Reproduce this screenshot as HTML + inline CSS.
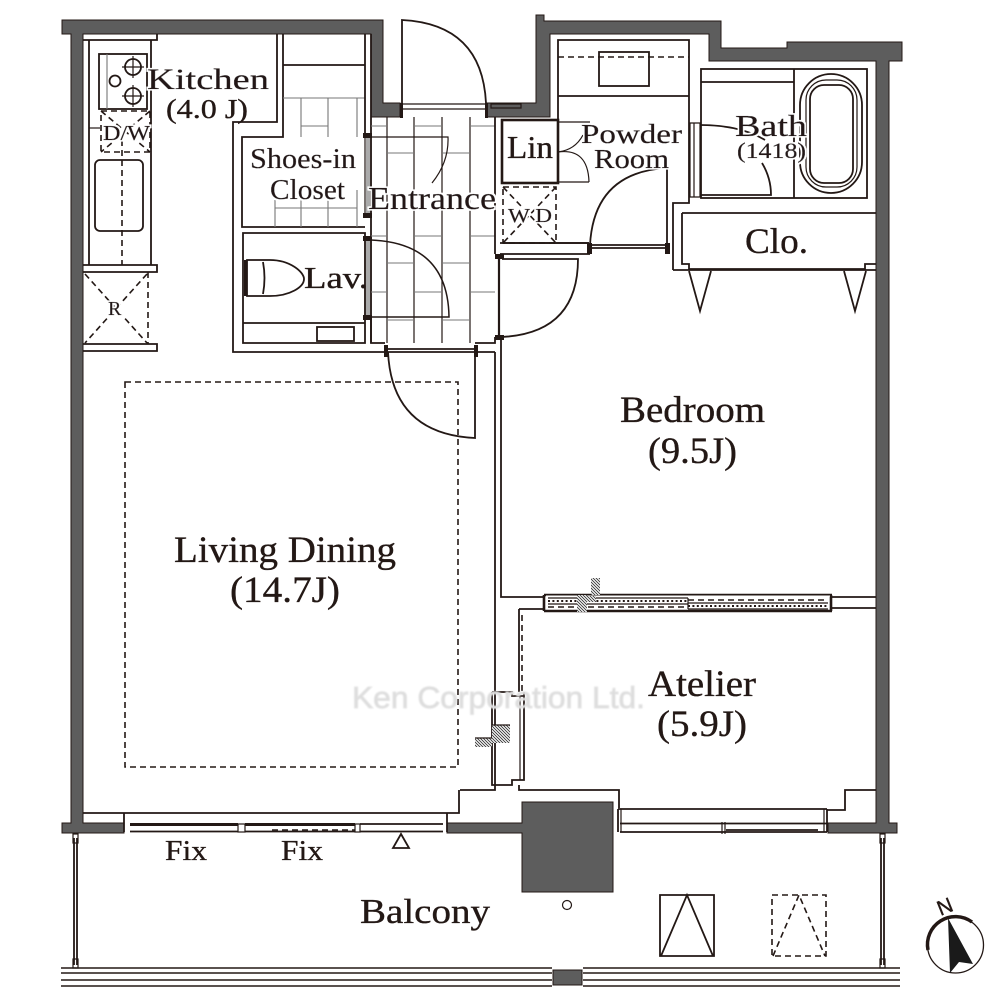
<!DOCTYPE html>
<html><head><meta charset="utf-8"><style>
html,body{margin:0;padding:0;background:#fff;width:1000px;height:1000px;overflow:hidden}
svg{display:block}
text{font-family:"Liberation Serif",serif;fill:#231815;stroke:#231815;stroke-width:.35px}
.h{filter:url(#halo)}
.l{fill:none;stroke:#231815;stroke-width:1.8}
.t{fill:none;stroke:#231815;stroke-width:1.2}
.g{fill:none;stroke:#777;stroke-width:1.1}
.b{fill:none;stroke:#231815;stroke-width:2.6}
.d{fill:none;stroke:#231815;stroke-width:1.6;stroke-dasharray:6 4}
.w{fill:#5d5d5d;stroke:#231815;stroke-width:1}
</style></head><body>
<svg width="1000" height="1000" viewBox="0 0 1000 1000" xmlns="http://www.w3.org/2000/svg">
<defs>
<pattern id="hat" width="3" height="3" patternUnits="userSpaceOnUse"><rect width="3" height="3" fill="#fff"/><path d="M0 0L3 3M-1 2L1 4M2 -1L4 1" stroke="#333" stroke-width=".9"/></pattern>
<filter id="halo" x="-10%" y="-20%" width="120%" height="140%"><feMorphology in="SourceAlpha" operator="dilate" radius="1.6" result="m"/><feFlood flood-color="#fff"/><feComposite in2="m" operator="in" result="w"/><feMerge><feMergeNode in="w"/><feMergeNode in="SourceGraphic"/></feMerge></filter>
<filter id="soft" x="-5%" y="-30%" width="110%" height="160%"><feGaussianBlur stdDeviation=".7"/></filter>
</defs>

<!-- walls -->
<path class="w" d="M62 20H383V103H400V117H371V34H83V823H124V833H62V823H71V34H62Z"/>
<path class="w" d="M487 103H536V15H544V21H721V48H787V42H902V61H889V823H897V833H828V823H876V61H709V34H550V117H487Z"/>
<path class="w" d="M447 823H522V802H613V892H522V833H447Z"/>
<rect class="w" x="553" y="970" width="29" height="15"/>

<!-- balcony rails -->
<path class="t" style="stroke-width:1.5" d="M61 968H552M61 973H552M61 980H552M61 986H552M583 968H900M583 973H900M583 980H900M583 986H900"/>
<path class="l" d="M74 838V965M77 838V965M881 838V965M884 838V965"/>
<rect class="t" x="73" y="834" width="5" height="9" fill="#fff"/><rect class="t" x="73" y="959" width="5" height="9" fill="#fff"/>
<rect class="t" x="880" y="834" width="5" height="9" fill="#fff"/><rect class="t" x="880" y="959" width="5" height="9" fill="#fff"/>

<!-- kitchen -->
<path class="l" d="M83 40H157V34M89 40V265M151 40V265M83 265H157V272H83M83 344H157V351H83M157 265V272M157 344V351"/>
<rect class="l" x="99" y="54" width="48" height="55"/>
<path class="g" d="M107 54V109"/>
<circle class="l" cx="133" cy="67" r="8"/><circle class="l" cx="133" cy="96" r="8"/><circle class="l" cx="115" cy="81" r="5.5"/>
<path class="t" d="M133 56V78M122 67H144M122 96H144M133 85V107"/>
<path class="d" d="M101 111H150V152H101ZM101 111L150 152M150 111L101 152"/>
<path class="t" d="M89 128H100"/>
<rect class="l" x="95" y="160" width="48" height="71" rx="5"/>
<path class="d" d="M122 140V265"/>
<path class="d" d="M148 272V344M85 274L147 343M147 274L85 343"/>

<!-- closet & lav walls -->
<path class="l" d="M277 34V122H233V352H385M283 34V137H242V227H365M243 233H365V343H243ZM283 65H365"/>
<path class="g" d="M283 98H365"/>
<path class="l" d="M365 34V137M371 34V343"/>
<path class="g" d="M301 98V137M328 98V137M357 98V137M275 200V227M301 190V227M328 190V227M357 190V227M301 126H328M275 208H357"/>
<path class="l" d="M243 323H365"/>
<rect class="l" x="317" y="327" width="37" height="14"/>
<!-- toilet -->
<path class="l" d="M247 260H270C290 260 304 272 304 279C304 287 290 296 270 296H247Z"/>
<path class="l" d="M263 262Q266 278 263 294"/>
<rect x="244" y="260" width="3" height="36" fill="#231815"/>

<!-- sliding door frames west -->
<path style="fill:none;stroke:#aaa;stroke-width:4" d="M368 137V215M368 240V317"/>
<path class="t" d="M365 137V215M371 137V215M365 240V317M371 240V317"/>
<path d="M363 133h9v5h-9zM363 213h9v5h-9zM363 236h9v5h-9zM363 315h9v5h-9z" fill="#231815"/>

<!-- entrance tile -->
<path class="t" d="M387 117V343M414 117V343M442 117V343M470 117V343"/>
<path class="g" d="M371 126H387M414 126H442M470 126H495M387 153H414M442 153H470M371 236H387M414 236H442M470 236H495M387 263H414M442 263H470M371 292H387M414 292H442M470 292H495M387 320H414M442 320H470"/>
<path class="t" d="M371 137H448Q449 162 432 183"/>
<path class="t" style="stroke-width:1.5" d="M371 240Q448 243 449 317H372"/>

<!-- entrance door -->
<path class="l" d="M402 103V20Q482 24 486 103"/>
<path class="t" d="M402 104H486V109H402ZM491 104H521V108H491Z"/>
<path d="M400 103h3v15h-3zM485 103h3v15h-3z" fill="#231815"/>

<!-- east wall of entrance -->
<path class="l" d="M495 117V254M500 254H590M500 243H589"/>
<rect class="b" x="502" y="120" width="56" height="63"/>
<path class="d" d="M503 187H556V243H503ZM503 187L556 243M556 187L503 243"/>
<path class="l" d="M503 243H589"/>
<path class="t" d="M558 122H590M558 182H589M558 152Q588 148 589 182M558 152Q575 150 583 135"/>
<path class="l" d="M590 245H667M590 248H667M667 245V168Q594 172 590 245"/>
<path d="M587 243h5v11h-5zM665 243h5v11h-5zM495 254h9v5h-9zM495 335h9v5h-9zM384 345h4v12h-4zM474 345h4v12h-4z" fill="#231815"/>

<!-- bedroom door -->
<path class="l" style="stroke-width:2.2" d="M499 259V337"/>
<path class="l" d="M502 259H578Q578 333 502 337"/>
<path class="l" d="M371 320V343H385M475 343H495V337M388 349H475M388 352H475M475 352H495M495 352V790H460M501 337V597H545"/>
<path class="l" d="M388 352Q392 434 475 438V352"/>

<!-- powder room -->
<path class="l" d="M558 120V40H689V203H673V270M558 96H689"/>
<path class="d" d="M558 57H689"/>
<rect class="l" x="599" y="52" width="50" height="34"/>

<!-- bath -->
<rect class="l" x="701" y="69" width="166" height="129"/>
<path class="l" d="M701 82H794M794 69V198"/>
<rect class="l" x="800" y="74" width="62" height="119" rx="31"/>
<rect class="l" x="810" y="85" width="43" height="98" rx="14"/>
<rect class="t" x="806" y="80" width="51" height="107" rx="20"/>
<path class="t" d="M690 123H700V197H690ZM694 123V197"/>
<path class="l" d="M700 125Q740 125 765 140M762 163Q771 178 771 195H700"/>

<!-- closet -->
<path class="l" d="M682 213H876M682 213V264H689V269H865V264H876M673 270H876"/>
<path class="l" d="M689 271L700 311L711 271M844 271L855 311L866 271"/>

<!-- bedroom/atelier wall -->
<path class="b" d="M544 595H832M544 611H832M544 595V611M831 595V611"/>
<path class="l" d="M832 597H876M832 608H876M519 609H545M519 609V692"/>
<path style="fill:none;stroke:#231815;stroke-width:2;stroke-dasharray:2 2.4" d="M548 601H688M688 606H828"/>
<path class="t" d="M548 598H688M548 604H688M688 603H828M688 609H828M688 598V609"/>
<path class="d" d="M548 607H688M688 600H828"/>
<path style="fill:none;stroke:#fff;stroke-width:1" d="M546 596H830"/>
<rect x="591" y="578" width="9" height="17" fill="url(#hat)"/><rect x="577" y="595" width="10" height="17" fill="url(#hat)"/><rect x="583" y="596" width="13" height="6" fill="url(#hat)"/>
<path class="d" d="M522 615V692"/>

<!-- atelier door -->
<path class="l" d="M492 692H512V696H524M492 692V785H512V780H524V692"/>
<path class="t" d="M520 696V780"/>
<rect x="492" y="725" width="18" height="18" fill="url(#hat)"/><rect x="475" y="738" width="17" height="9" fill="url(#hat)"/>
<path class="t" d="M492 725H510M475 738H492"/>
<path class="l" d="M519 785V790H619V808M459 790V813H447"/>

<!-- living -->
<path class="d" d="M125 382H458V767H125Z"/>
<path class="l" d="M83 813H447M124 813V832M447 813V832"/>
<path class="l" style="stroke-width:3" d="M130 824.5H238M245 824.5H355"/>
<path class="l" d="M130 831.5H238M245 831.5H355M360 831.5H443M360 824H443"/>
<rect class="t" x="238" y="824" width="7" height="8" fill="#fff"/><rect class="t" x="355" y="824" width="5" height="8" fill="#fff"/>
<path class="d" style="stroke-width:1.4" d="M272 830H355"/>
<path class="l" d="M401 834L393 848H409Z"/>

<!-- atelier window -->
<path class="l" d="M618 809H827M618 809V832M827 809V832M620 823.5H827M620 832H827M827 810H845V790H876"/>
<path class="l" style="stroke-width:1.8" d="M726 830H818"/>
<path class="t" d="M621 809V832M824 809V832M722 822V834M725 822V834"/>

<!-- balcony symbols -->
<circle class="t" cx="567" cy="905" r="4.5"/>
<path class="l" d="M660 895H714V956H660ZM661 956L687 895L713 956"/>
<path class="d" d="M772 895H826V956H772ZM773 956L799 895L825 956"/>

<!-- compass -->
<circle cx="955.5" cy="945" r="28" fill="none" stroke="#231815" stroke-width="1.3"/>
<path d="M928 950A28 28 0 0 1 972 922" fill="none" stroke="#231815" stroke-width="3.5"/>
<path d="M948 918L973 964L959 962L950 973Z" fill="#1a1a1a"/>
<text x="937" y="914" font-size="21" transform="rotate(-22 944 906)" style="font-family:'Liberation Sans',sans-serif">N</text>

<!-- watermark -->
<text x="352" y="708" font-size="31" textLength="293" lengthAdjust="spacingAndGlyphs" filter="url(#soft)" style="font-family:'Liberation Sans',sans-serif;fill:#dcdcdc;stroke:#e4e4e4;stroke-width:1px">Ken Corporation Ltd.</text>

<!-- labels -->
<text class="h" x="147" y="89" font-size="30" textLength="122" lengthAdjust="spacingAndGlyphs">Kitchen</text>
<text x="166" y="118" font-size="27" textLength="82" lengthAdjust="spacingAndGlyphs">(4.0 J)</text>
<text class="h" x="103" y="140" font-size="21" textLength="47" lengthAdjust="spacingAndGlyphs">D/W</text>
<text class="h" x="108" y="315" font-size="20">R</text>
<text class="h" x="250" y="168" font-size="29" textLength="106" lengthAdjust="spacingAndGlyphs">Shoes-in</text>
<text class="h" x="270" y="199" font-size="29" textLength="75" lengthAdjust="spacingAndGlyphs">Closet</text>
<text class="h" x="368" y="209" font-size="32" textLength="128" lengthAdjust="spacingAndGlyphs">Entrance</text>
<text x="304" y="288" font-size="31" textLength="64" lengthAdjust="spacingAndGlyphs">Lav.</text>
<text x="507" y="158" font-size="32" textLength="46" lengthAdjust="spacingAndGlyphs">Lin</text>
<text class="h" x="508" y="222" font-size="20" textLength="44" lengthAdjust="spacingAndGlyphs">W D</text>
<text class="h" x="581" y="143" font-size="27" textLength="101" lengthAdjust="spacingAndGlyphs">Powder</text>
<text class="h" x="594" y="168" font-size="27" textLength="75" lengthAdjust="spacingAndGlyphs">Room</text>
<text class="h" x="735" y="136" font-size="31" textLength="72" lengthAdjust="spacingAndGlyphs">Bath</text>
<text class="h" x="737" y="158" font-size="22" textLength="69" lengthAdjust="spacingAndGlyphs">(1418)</text>
<text x="745" y="253" font-size="36" textLength="63" lengthAdjust="spacingAndGlyphs">Clo.</text>
<text x="620" y="422" font-size="37" textLength="145" lengthAdjust="spacingAndGlyphs">Bedroom</text>
<text x="648" y="463" font-size="37" textLength="89" lengthAdjust="spacingAndGlyphs">(9.5J)</text>
<text x="174" y="562" font-size="37" textLength="222" lengthAdjust="spacingAndGlyphs">Living Dining</text>
<text x="230" y="602" font-size="37" textLength="110" lengthAdjust="spacingAndGlyphs">(14.7J)</text>
<text x="648" y="696" font-size="37" textLength="108" lengthAdjust="spacingAndGlyphs">Atelier</text>
<text x="657" y="736" font-size="37" textLength="90" lengthAdjust="spacingAndGlyphs">(5.9J)</text>
<text x="165" y="860" font-size="29" textLength="42" lengthAdjust="spacingAndGlyphs">Fix</text>
<text x="281" y="860" font-size="29" textLength="42" lengthAdjust="spacingAndGlyphs">Fix</text>
<text x="360" y="923" font-size="35" textLength="130" lengthAdjust="spacingAndGlyphs">Balcony</text>
</svg>
</body></html>
